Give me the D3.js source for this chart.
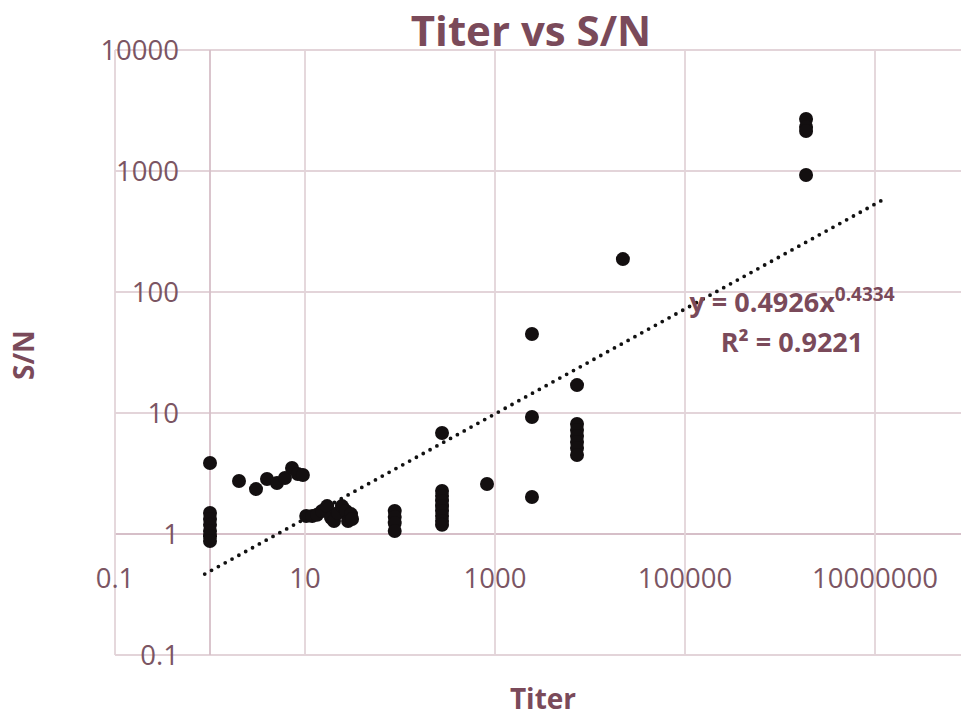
<!DOCTYPE html>
<html><head><meta charset="utf-8">
<script src="https://cdn.jsdelivr.net/npm/d3@7"></script>
<style>body{margin:0;background:#fff}svg{display:block}</style>
</head><body><svg id="c" width="961" height="719"></svg>
<script>
// ---- data ----
const titer = [
  1,1,1,1,1,1,1,
  2.02,3.05,3.98,5.07,6.15,7.3,8.4,9.5,
  10.3,11.9,13.4,15.1,17.1,18.8,20.2,22.2,24.5,27,28.4,30.5,31.3,
  88,88,88,88,
  277,277,277,277,277,277,277,277,277,
  824,
  2450,2450,2450,
  7300,7300,7300,7300,7300,7300,7300,
  22200,
  1.88e6,1.88e6,1.88e6,1.88e6
];
const sn = [
  3.86,1.49,1.33,1.19,1.06,0.96,0.875,
  2.74,2.35,2.85,2.64,2.90,3.51,3.13,3.07,
  1.41,1.41,1.44,1.55,1.70,1.36,1.28,1.49,1.70,1.55,1.28,1.46,1.33,
  1.55,1.38,1.23,1.06,
  6.83,2.27,2.06,1.87,1.70,1.55,1.41,1.28,1.19,
  2.59,
  45,9.27,2.02,
  17,8.11,7.24,6.46,5.76,5.14,4.50,
  187,
  2690,2310,2140,927
];
const xGridTicks = [0.1, 10, 1000, 100000, 10000000];
const xTickLabels = ["0.1", "10", "1000", "100000", "10000000"];
const yTicks = [0.1, 1, 10, 100, 1000, 10000];
const yTickLabels = ["0.1", "1", "10", "100", "1000", "10000"];
const trendA = 0.4926, trendB = 0.4334, trendR2 = "0.9221";
const trendRange = [0.88, 1.2e7];

// ---- chart ----
const svg = d3.select("#c");
svg.append("rect").attr("width", 961).attr("height", 719).attr("fill", "#fff");

const x = d3.scaleLog().domain([0.1, 1e9]).range([115, 1065]);
const y = d3.scaleLog().domain([0.1, 10000]).range([655, 50]);

const gridColor = "#e3d4d9", axisColor = "#d6bfc8";
const tickColor = "#7b5563", titleColor = "#7a4a5a";
const font = "'Open Sans', 'Noto Sans', sans-serif";

const grid = svg.append("g");
grid.selectAll("line.h").data(yTicks).join("line")
  .attr("x1", x(0.1)).attr("x2", x(1e9))
  .attr("y1", d => y(d)).attr("y2", d => y(d))
  .attr("stroke", d => d === 1 ? axisColor : gridColor).attr("stroke-width", 1.8);
grid.selectAll("line.v").data(xGridTicks).join("line")
  .attr("x1", d => x(d)).attr("x2", d => x(d))
  .attr("y1", y(10000)).attr("y2", y(0.1))
  .attr("stroke", gridColor).attr("stroke-width", 1.8);
// vertical axis crossing at x = 1
grid.append("line")
  .attr("x1", x(1)).attr("x2", x(1)).attr("y1", y(10000)).attr("y2", y(0.1))
  .attr("stroke", axisColor).attr("stroke-width", 1.8);

// tick labels
svg.append("g").selectAll("text").data(yTicks).join("text")
  .attr("x", 179).attr("y", d => y(d) + 10)
  .attr("text-anchor", "end")
  .attr("font-family", font).attr("font-size", 27.5).attr("fill", tickColor)
  .text((d, i) => yTickLabels[i]);
svg.append("g").selectAll("text").data(xGridTicks).join("text")
  .attr("x", d => x(d)).attr("y", y(1) + 54)
  .attr("text-anchor", "middle")
  .attr("font-family", font).attr("font-size", 27.5).attr("fill", tickColor)
  .text((d, i) => xTickLabels[i]);

// trendline (power fit)
const trendPts = trendRange.map(t => [t, trendA * Math.pow(t, trendB)]);
svg.append("path")
  .attr("d", d3.line().x(d => x(d[0])).y(d => y(d[1]))(trendPts))
  .attr("fill", "none").attr("stroke", "#111").attr("stroke-width", 3.8)
  .attr("stroke-linecap", "round").attr("stroke-dasharray", "0 7.8");

// points
svg.append("g").selectAll("circle").data(titer.map((t, i) => [t, sn[i]])).join("circle")
  .attr("cx", d => x(d[0])).attr("cy", d => y(d[1])).attr("r", 7)
  .attr("fill", "#130f10");

// equation
const eq = svg.append("text").attr("x", 792).attr("y", 312)
  .attr("text-anchor", "middle").attr("font-family", font).attr("font-weight", "bold")
  .attr("font-size", 27).attr("fill", titleColor);
eq.append("tspan").text("y = " + trendA + "x");
eq.append("tspan").attr("dy", -11).attr("font-size", 19).text(String(trendB));
svg.append("text").attr("x", 792).attr("y", 352)
  .attr("text-anchor", "middle").attr("font-family", font).attr("font-weight", "bold")
  .attr("font-size", 27).attr("fill", titleColor)
  .text("R\u00B2 = " + trendR2);

// titles
svg.append("text").attr("x", 531).attr("y", 46).attr("text-anchor", "middle")
  .attr("font-family", font).attr("font-weight", "bold").attr("font-size", 42)
  .attr("fill", titleColor).text("Titer vs S/N");
svg.append("text").attr("x", 543).attr("y", 709).attr("text-anchor", "middle")
  .attr("font-family", font).attr("font-weight", "bold").attr("font-size", 28)
  .attr("fill", titleColor).text("Titer");
svg.append("text").attr("transform", "translate(34,355) rotate(-90)")
  .attr("text-anchor", "middle")
  .attr("font-family", font).attr("font-weight", "bold").attr("font-size", 28)
  .attr("fill", titleColor).text("S/N");
</script></body></html>
